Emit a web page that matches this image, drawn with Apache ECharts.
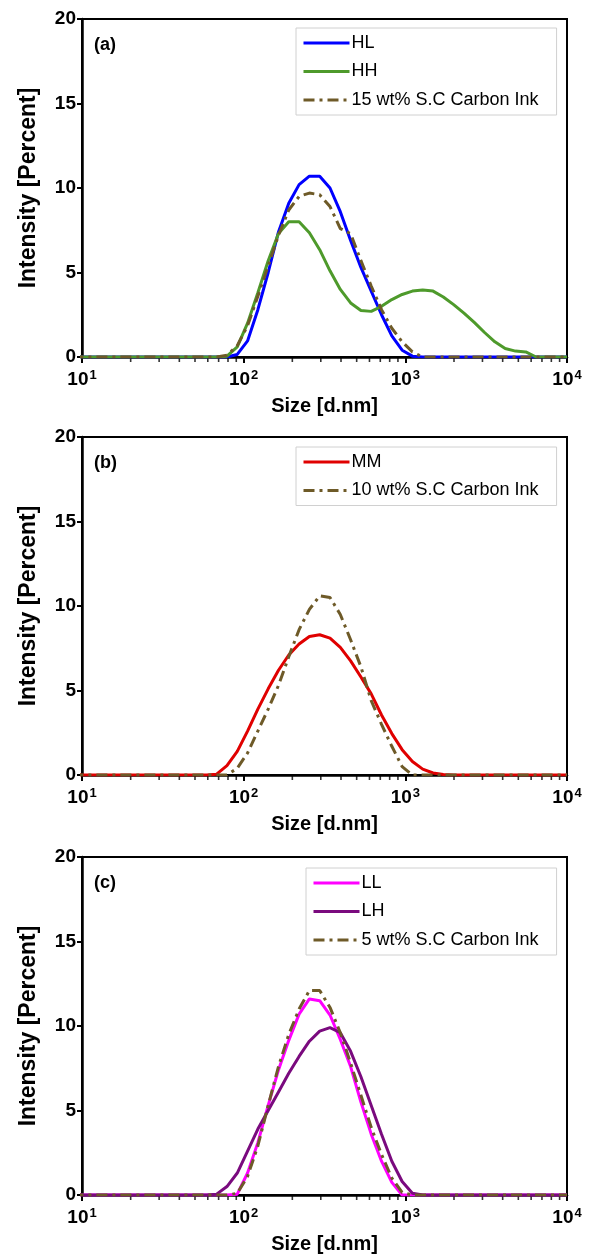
<!DOCTYPE html>
<html>
<head>
<meta charset="utf-8">
<script src="https://cdn.jsdelivr.net/npm/echarts@6/dist/echarts.min.js"></script>
<style>
html,body{margin:0;padding:0;background:#fff;}
#chart{width:589px;height:1256px;}
</style>
</head>
<body>
<div id="chart"></div>
<script>
// Particle size bins (d.nm)
const sizes = [8.721, 10.1, 11.7, 13.54, 15.69, 18.17, 21.04, 24.36, 28.21, 32.67, 37.84, 43.82, 50.75, 58.77, 68.06,
  78.82, 91.28, 105.7, 122.4, 141.8, 164.2, 190.1, 220.2, 255.0, 295.3, 342.0, 396.1, 458.7, 531.2, 615.1,
  712.4, 825.0, 955.4, 1106, 1281, 1484, 1718, 1990, 2305, 2669, 3091, 3580, 4145, 4801, 5560, 6439, 7456, 8635, 10000];

// Panel (a)
const HL = [0,0,0,0,0,0,0,0,0,0,0,0,0,0,0,
  0, 0.15, 0.95, 2.8, 5.0, 7.4, 9.1, 10.2, 10.7, 10.7, 10.0, 8.6, 6.9, 5.3, 3.9,
  2.5, 1.25, 0.4, 0.05, 0, 0, 0, 0, 0, 0, 0, 0, 0, 0, 0, 0, 0, 0, 0];
const HH = [0,0,0,0,0,0,0,0,0,0,0,0,0,0,0,
  0.05, 0.6, 2.0, 3.8, 5.7, 7.3, 8.0, 8.0, 7.35, 6.35, 5.1, 4.0, 3.2, 2.75, 2.7,
  3.0, 3.4, 3.7, 3.9, 3.97, 3.9, 3.55, 3.1, 2.6, 2.05, 1.45, 0.9, 0.5, 0.35, 0.3, 0, 0, 0, 0];
const ink15 = [0,0,0,0,0,0,0,0,0,0,0,0,0,0,0,
  0.1, 0.67, 1.85, 3.6, 5.4, 7.2, 8.7, 9.5, 9.7, 9.6, 8.9, 7.6, 7.3, 5.7, 4.2,
  2.8, 1.7, 0.9, 0.3, 0, 0, 0, 0, 0, 0, 0, 0, 0, 0, 0, 0, 0, 0, 0];

// Panel (b)
const MM = [0,0,0,0,0,0,0,0,0,0,0,0,0,0,0.05,
  0.55, 1.4, 2.6, 3.9, 5.1, 6.2, 7.1, 7.75, 8.2, 8.3, 8.1, 7.55, 6.75, 5.8, 4.8,
  3.55, 2.45, 1.5, 0.8, 0.35, 0.12, 0.03, 0, 0, 0, 0, 0, 0, 0, 0, 0, 0, 0, 0];
const ink10 = [0,0,0,0,0,0,0,0,0,0,0,0,0,0,0,
  0, 0.4, 1.3, 2.6, 3.9, 5.3, 7.0, 8.6, 9.8, 10.6, 10.5, 9.5, 8.0, 6.4, 4.4,
  3.0, 1.7, 0.5, 0, 0, 0, 0, 0, 0, 0, 0, 0, 0, 0, 0, 0, 0, 0, 0];

// Panel (c)
const LL = [0,0,0,0,0,0,0,0,0,0,0,0,0,0,0,
  0, 0.05, 1.3, 3.1, 5.3, 7.4, 9.15, 10.7, 11.6, 11.5, 10.65, 9.2, 7.6, 5.5, 3.6,
  2.0, 0.75, 0, 0, 0, 0, 0, 0, 0, 0, 0, 0, 0, 0, 0, 0, 0, 0, 0];
const LH = [0,0,0,0,0,0,0,0,0,0,0,0,0,0,0.05,
  0.5, 1.3, 2.6, 3.9, 5.0, 6.1, 7.2, 8.2, 9.1, 9.7, 9.9, 9.6, 8.5, 7.0, 5.3,
  3.6, 2.0, 0.8, 0.1, 0, 0, 0, 0, 0, 0, 0, 0, 0, 0, 0, 0, 0, 0, 0];
const ink5 = [0,0,0,0,0,0,0,0,0,0,0,0,0,0,0,
  0, 0.1, 1.1, 2.9, 5.3, 7.6, 9.5, 11.0, 12.1, 12.1, 11.1, 9.6, 7.8, 5.9, 4.0,
  2.4, 1.0, 0.15, 0, 0, 0, 0, 0, 0, 0, 0, 0, 0, 0, 0, 0, 0, 0, 0];

const panelLabels = ['(a)', '(b)', '(c)'];
const xTickValues = [10, 100, 1000, 10000];
const minorTickValues = [20, 30, 40, 50, 60, 70, 80, 90, 200, 300, 400, 500, 600, 700, 800, 900,
  2000, 3000, 4000, 5000, 6000, 7000, 8000, 9000];
const yTicks = [0, 5, 10, 15, 20];
const xName = 'Size [d.nm]';
const yName = 'Intensity [Percent]';

const FONT = '"Liberation Sans", Arial, sans-serif';
const chart = echarts.init(document.getElementById('chart'));

const gridTops = [19, 437, 857];
const gridH = 338;
const pair = arr => sizes.map((s, i) => [s, arr[i]]);
const dashStyle = { color: '#6E5A28', width: 3, type: [11, 5, 3, 5] };

const grids = gridTops.map(t => ({ left: 82, top: t, width: 485, height: gridH, show: true,
  borderColor: '#000', borderWidth: 2, backgroundColor: 'transparent' }));

const xAxes = gridTops.map((t, i) => ({
  type: 'log', logBase: 10, gridIndex: i, min: xTickValues[0], max: xTickValues[3], interval: 1,
  name: xName, nameLocation: 'middle', nameGap: 39,
  nameTextStyle: { fontFamily: FONT, fontSize: 20, fontWeight: 'bold', color: '#000' },
  axisLine: { lineStyle: { color: '#000', width: 2.5 } },
  axisTick: { show: true, inside: false, length: 6, lineStyle: { color: '#000', width: 2 } },
  splitLine: { show: false },
  axisLabel: {
    margin: 13, color: '#000',
    formatter: v => '{b|10}{s|' + Math.round(Math.log10(v)) + '}',
    rich: {
      b: { fontFamily: FONT, fontSize: 19, fontWeight: 'bold', color: '#000', lineHeight: 20 },
      s: { fontFamily: FONT, fontSize: 13, fontWeight: 'bold', color: '#000', lineHeight: 20, padding: [0, 0, 9, 1] }
    }
  }
}));

const yAxes = gridTops.map((t, i) => ({
  type: 'value', gridIndex: i, min: yTicks[0], max: yTicks[4], interval: 5,
  name: yName, nameLocation: 'middle', nameGap: 42, nameRotate: 90,
  nameTextStyle: { fontFamily: FONT, fontSize: 23, fontWeight: 'bold', color: '#000' },
  axisLine: { show: true, lineStyle: { color: '#000', width: 2.5 } },
  axisTick: { show: true, inside: false, length: 5, lineStyle: { color: '#000', width: 2 } },
  splitLine: { show: false },
  axisLabel: { fontFamily: FONT, fontSize: 19, fontWeight: 'bold', color: '#000', margin: 6 }
}));

const lineSeries = (name, arr, idx, style) => ({
  name, type: 'line', xAxisIndex: idx, yAxisIndex: idx, data: pair(arr),
  symbol: 'none', smooth: false, lineStyle: style, itemStyle: { color: style.color },
  emphasis: { disabled: true }, animation: false
});

const minorSeries = gridTops.map((t, i) => ({
  type: 'scatter', xAxisIndex: i, yAxisIndex: i, silent: true, clip: false,
  data: minorTickValues.map(v => [v, 0]), symbol: 'rect', symbolSize: [1.6, 4], symbolOffset: [0, 3],
  itemStyle: { color: '#000' }, z: 1, animation: false
}));

const series = [
  lineSeries('HL', HL, 0, { color: '#0000FF', width: 3 }),
  lineSeries('HH', HH, 0, { color: '#4E9A2B', width: 3 }),
  lineSeries('15 wt% S.C Carbon Ink', ink15, 0, dashStyle),
  lineSeries('MM', MM, 1, { color: '#E00000', width: 3 }),
  lineSeries('10 wt% S.C Carbon Ink', ink10, 1, dashStyle),
  lineSeries('LL', LL, 2, { color: '#FF00FF', width: 3 }),
  lineSeries('LH', LH, 2, { color: '#7A0A7E', width: 3 }),
  lineSeries('5 wt% S.C Carbon Ink', ink5, 2, dashStyle),
  ...minorSeries
];

const legendBase = {
  orient: 'vertical', itemWidth: 46, itemHeight: 14, itemGap: 10.5,
  itemStyle: { opacity: 0 },
  lineStyle: { width: 3 },
  backgroundColor: '#fff', borderColor: '#D0D0D0', borderWidth: 1,
  textStyle: { fontFamily: FONT, fontSize: 18, lineHeight: 14, color: '#000', padding: [0, 0, 0, -3] },
  selectedMode: false
};

const legends = [
  Object.assign({}, legendBase, { data: ['HL', 'HH', '15 wt% S.C Carbon Ink'], left: 296, top: 28, padding: [6, 18, 6, 6] }),
  Object.assign({}, legendBase, { data: ['MM', '10 wt% S.C Carbon Ink'], left: 296, top: 447, padding: [6, 18, 6, 6] }),
  Object.assign({}, legendBase, { data: ['LL', 'LH', '5 wt% S.C Carbon Ink'], left: 306, top: 868, padding: [6, 18, 6, 6] })
];

const titles = gridTops.map((t, i) => ({
  text: panelLabels[i], left: 89, top: t + 12,
  textStyle: { fontFamily: FONT, fontSize: 18, fontWeight: 'bold', color: '#000' }
}));

chart.setOption({
  animation: false,
  backgroundColor: '#fff',
  title: titles,
  grid: grids,
  xAxis: xAxes,
  yAxis: yAxes,
  legend: legends,
  series
});
</script>
</body>
</html>
